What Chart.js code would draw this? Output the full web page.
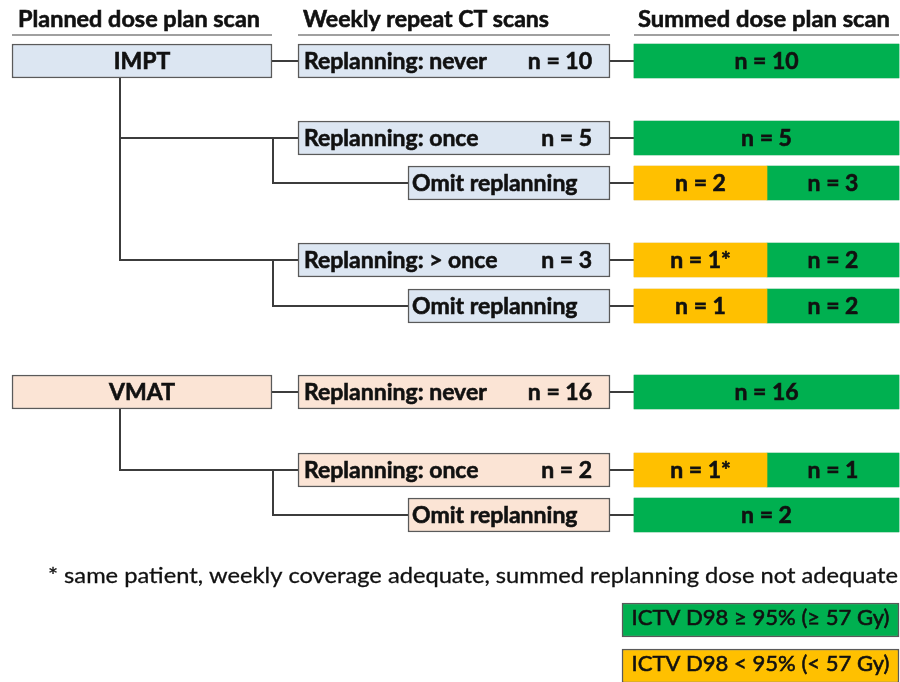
<!DOCTYPE html>
<html>
<head>
<meta charset="utf-8">
<script src="https://cdn.jsdelivr.net/npm/chart.js@4"></script>
<style>
  body { margin: 0; background: #fff; }
  #wrap { width: 900px; height: 682px; position: relative; }
</style>
</head>
<body>
<div id="wrap"><canvas id="flow"></canvas></div>
<script>
/**
 * Replanning flow chart: planned dose -> weekly repeat CT -> summed dose
 * Drawn as floating horizontal bars on hidden linear scales.
 */

// ---- data ----
const HEADERS = ['Planned dose plan scan', 'Weekly repeat CT scans', 'Summed dose plan scan'];
const PLANS = ['IMPT', 'VMAT'];
const ROW_PLAN = [0, 0, 0, 0, 0, 1, 1, 1];
const ROW_KIND = ['never', 'branch', 'omit', 'branch', 'omit', 'never', 'branch', 'omit'];
const ROW_LABELS = ['Replanning: never', 'Replanning: once', 'Omit replanning', 'Replanning: > once',
  'Omit replanning', 'Replanning: never', 'Replanning: once', 'Omit replanning'];
const ROW_N = [10, 5, null, 3, null, 16, 2, null];
const SUM_BELOW = [0, 0, 2, 1, 1, 0, 1, 0];      // ICTV D98 < 95%
const SUM_ADEQUATE = [10, 5, 3, 2, 2, 16, 1, 2]; // ICTV D98 >= 95%
const SUM_STAR = [false, false, false, true, false, false, true, false];
const FOOTNOTE = '* same patient, weekly coverage adequate, summed replanning dose not adequate';
const LEGEND_LABELS = ['ICTV D98 \u2265 95% (\u2265 57 Gy)', 'ICTV D98 < 95% (< 57 Gy)'];

// ---- layout & style ----
const LAYOUT = {
  w: 900, h: 682, boxH: 34,
  planX: [12, 272], weeklyX: [298, 610], omitX: [408, 610],
  sumX: [634, 899], sumSplit: 767,
  trunkX: 120, branchX: 273,
  rowY: [61, 138, 183, 260, 306, 392, 470, 515],
  headerX: [18, 303, 638], headerW: [242, 246, 252],
  headerCols: [[12, 272], [298, 610], [634, 899]],
  headerY: 27, ruleY: 35,
  footX: 48, footW: 850, footY: 583,
  legendX: [622, 899], legendY: [620, 666], legendTextW: 258
};
const STYLE = {
  planFill: ['#dce6f2', '#fbe4d5'],
  adequate: '#00b050',
  below: '#ffc000',
  border: '#5a5a5a',
  link: '#3c3c3c',
  rule: '#808080',
  text: '#111111',
  font: 'Lato, "Open Sans", sans-serif'
};

const planRow = PLANS.map((_, g) => ROW_PLAN.findIndex((p, i) => p === g && ROW_KIND[i] === 'never'));

function drawText(ctx, text, x, y, align, font, width, weight) {
  ctx.save();
  ctx.font = font;
  ctx.textBaseline = 'alphabetic';
  ctx.fillStyle = STYLE.text;
  ctx.strokeStyle = STYLE.text;
  const natural = ctx.measureText(text).width;
  const sx = width ? width / natural : 1;
  ctx.translate(x, y);
  ctx.scale(sx, 1);
  ctx.textAlign = align;
  ctx.fillText(text, 0, 0);
  // thicken strokes a little, the source face is heavier than Lato
  ctx.lineWidth = weight || 0.6;
  ctx.strokeText(text, 0, 0);
  ctx.restore();
}

function boxRect(el) {
  const l = Math.min(el.x, el.base), r = Math.max(el.x, el.base);
  return { l, r, cx: (l + r) / 2, cy: el.y };
}

const flowPlugin = {
  id: 'flow',
  beforeDatasetsDraw(chart) {
    const { ctx, scales: { x, y } } = chart;
    const px = v => x.getPixelForValue(v), py = v => y.getPixelForValue(v);
    const half = LAYOUT.boxH / 2;
    ctx.save();
    // headers + rules
    HEADERS.forEach((h, i) => {
      drawText(ctx, h, px(LAYOUT.headerX[i]), py(LAYOUT.headerY), 'left', 'bold 23px ' + STYLE.font, LAYOUT.headerW[i]);
      ctx.strokeStyle = STYLE.rule;
      ctx.lineWidth = 1.5;
      ctx.beginPath();
      ctx.moveTo(px(LAYOUT.headerCols[i][0]), py(LAYOUT.ruleY));
      ctx.lineTo(px(LAYOUT.headerCols[i][1]), py(LAYOUT.ruleY));
      ctx.stroke();
    });
    // connectors
    ctx.strokeStyle = STYLE.link;
    ctx.lineWidth = 2;
    const line = (x1, y1, x2, y2) => {
      ctx.beginPath(); ctx.moveTo(px(x1), py(y1)); ctx.lineTo(px(x2), py(y2)); ctx.stroke();
    };
    PLANS.forEach((_, g) => {
      const yPlan = LAYOUT.rowY[planRow[g]];
      const branches = ROW_KIND.map((k, i) => i).filter(i => ROW_PLAN[i] === g && ROW_KIND[i] === 'branch');
      const lastY = LAYOUT.rowY[branches[branches.length - 1]];
      line(LAYOUT.trunkX, yPlan + half, LAYOUT.trunkX, lastY + 1);
    });
    ROW_KIND.forEach((k, i) => {
      const yr = LAYOUT.rowY[i];
      if (k === 'never') line(LAYOUT.planX[1], yr, LAYOUT.weeklyX[0], yr);
      if (k === 'branch') line(LAYOUT.trunkX - 1, yr, LAYOUT.weeklyX[0], yr);
      if (k === 'omit') {
        const yParent = LAYOUT.rowY[i - 1];
        line(LAYOUT.branchX, yParent, LAYOUT.branchX, yr + 1);
        line(LAYOUT.branchX - 1, yr, LAYOUT.omitX[0], yr);
      }
      line(LAYOUT.weeklyX[1], yr, LAYOUT.sumX[0], yr);
    });
    ctx.restore();
  },
  afterDatasetsDraw(chart) {
    const { ctx, scales: { x, y } } = chart;
    const boxFont = 'bold 23px ' + STYLE.font;
    const dy = 8;
    // plan boxes
    chart.getDatasetMeta(0).data.forEach((el, g) => {
      const b = boxRect(el);
      drawText(ctx, PLANS[g], b.cx, b.cy + dy, 'center', boxFont);
    });
    // weekly boxes
    chart.getDatasetMeta(1).data.forEach((el, i) => {
      const b = boxRect(el);
      drawText(ctx, ROW_LABELS[i], b.l + (ROW_KIND[i] === 'omit' ? 4 : 6), b.cy + dy, 'left', boxFont);
      if (ROW_N[i] != null) drawText(ctx, 'n = ' + ROW_N[i], b.r - 18, b.cy + dy, 'right', boxFont);
    });
    // summed below / adequate
    chart.getDatasetMeta(2).data.forEach((el, i) => {
      if (!SUM_BELOW[i]) return;
      const b = boxRect(el);
      drawText(ctx, 'n = ' + SUM_BELOW[i] + (SUM_STAR[i] ? '*' : ''), b.cx, b.cy + dy, 'center', boxFont);
    });
    chart.getDatasetMeta(3).data.forEach((el, i) => {
      const b = boxRect(el);
      drawText(ctx, 'n = ' + SUM_ADEQUATE[i], b.cx, b.cy + dy, 'center', boxFont);
    });
    // footnote
    drawText(ctx, FOOTNOTE, x.getPixelForValue(LAYOUT.footX), y.getPixelForValue(LAYOUT.footY),
      'left', '22px ' + STYLE.font, LAYOUT.footW, 0.3);
    // legend
    chart.getDatasetMeta(5).data.forEach((el, i) => {
      const b = boxRect(el);
      drawText(ctx, LEGEND_LABELS[i], b.cx, b.cy + 5, 'center', '22px ' + STYLE.font, LAYOUT.legendTextW, 0.6);
    });
  }
};

const barBase = {
  borderColor: STYLE.border,
  borderWidth: 1.5,
  borderSkipped: false,
  barThickness: LAYOUT.boxH,
  grouped: false
};

const datasets = [
  { ...barBase, label: 'plan',
    data: PLANS.map((_, g) => ({ x: LAYOUT.planX, y: LAYOUT.rowY[planRow[g]] })),
    backgroundColor: PLANS.map((_, g) => STYLE.planFill[g]) },
  { ...barBase, label: 'weekly',
    data: ROW_LABELS.map((_, i) => ({ x: ROW_KIND[i] === 'omit' ? LAYOUT.omitX : LAYOUT.weeklyX, y: LAYOUT.rowY[i] })),
    backgroundColor: ROW_PLAN.map(g => STYLE.planFill[g]) },
  { ...barBase, label: 'below', borderWidth: 0,
    data: SUM_BELOW.map((n, i) => n ? { x: [LAYOUT.sumX[0], LAYOUT.sumSplit], y: LAYOUT.rowY[i] } : { x: null, y: LAYOUT.rowY[i] }),
    backgroundColor: STYLE.below },
  { ...barBase, label: 'adequate', borderWidth: 0,
    data: SUM_ADEQUATE.map((n, i) => ({ x: [SUM_BELOW[i] ? LAYOUT.sumSplit : LAYOUT.sumX[0], LAYOUT.sumX[1]], y: LAYOUT.rowY[i] })),
    backgroundColor: STYLE.adequate },
  { ...barBase, label: 'outline',
    data: ROW_LABELS.map((_, i) => ({ x: LAYOUT.sumX, y: LAYOUT.rowY[i] })),
    backgroundColor: 'rgba(0,0,0,0)' },
  { ...barBase, label: 'legend',
    data: LEGEND_LABELS.map((_, i) => ({ x: LAYOUT.legendX, y: LAYOUT.legendY[i] })),
    backgroundColor: [STYLE.adequate, STYLE.below] }
];

new Chart(document.getElementById('flow'), {
  type: 'bar',
  data: { datasets },
  options: {
    indexAxis: 'y',
    responsive: true,
    maintainAspectRatio: false,
    animation: false,
    layout: { padding: 0 },
    plugins: { legend: { display: false }, tooltip: { enabled: false } },
    scales: {
      x: { type: 'linear', min: 0, max: LAYOUT.w, display: false, offset: false },
      y: { type: 'linear', min: 0, max: LAYOUT.h, reverse: true, display: false, offset: false }
    }
  },
  plugins: [flowPlugin]
});
</script>
</body>
</html>
